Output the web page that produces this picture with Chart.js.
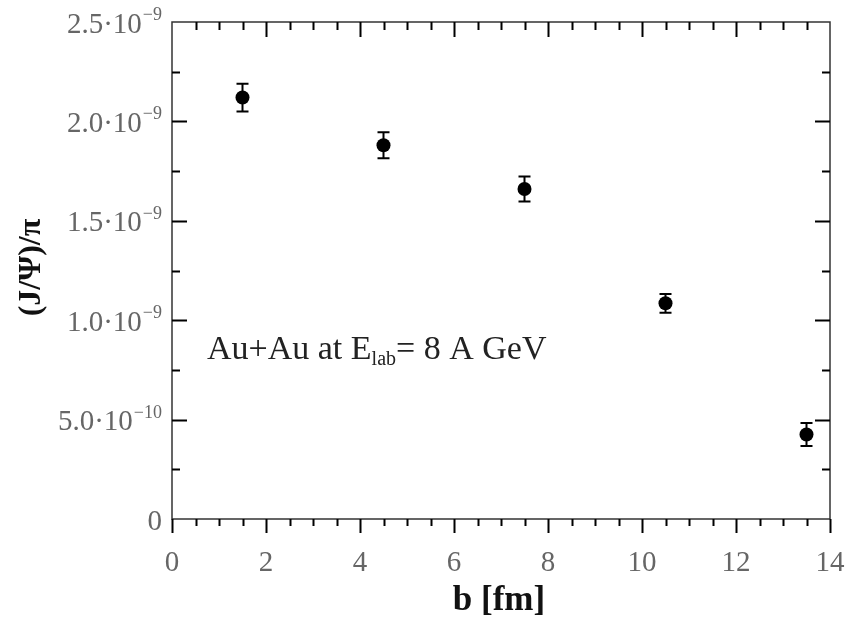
<!DOCTYPE html>
<html>
<head>
<meta charset="utf-8">
<script src="https://cdn.jsdelivr.net/npm/chart.js@4"></script>
<style>
  html, body { margin: 0; padding: 0; background: #fff; }
  #wrap { width: 849px; height: 617px; }
</style>
</head>
<body>
<div id="wrap"><canvas id="jpsiChart" width="849" height="617"></canvas></div>
<script>
// impact parameter b [fm] and J/psi per pion
const bValues = [1.5, 4.5, 7.5, 10.5, 13.5];
const jpsiValues = [2.12e-9, 1.88e-9, 1.66e-9, 1.085e-9, 0.425e-9];
const jpsiErrors = [0.07e-9, 0.065e-9, 0.063e-9, 0.047e-9, 0.058e-9];

const xTicks = [0, 2, 4, 6, 8, 10, 12, 14];
const xTickLabels = ['0', '2', '4', '6', '8', '10', '12', '14'];
const yTicks = [0, 0.5e-9, 1.0e-9, 1.5e-9, 2.0e-9, 2.5e-9];
const yTickLabels = [['0', ''], ['5.0\u00b710', '\u221210'], ['1.0\u00b710', '\u22129'],
                     ['1.5\u00b710', '\u22129'], ['2.0\u00b710', '\u22129'], ['2.5\u00b710', '\u22129']];

const SERIF = '"Liberation Serif", "DejaVu Serif", serif';

const frame = {
    id: 'frame',
    afterDraw(chart) {
        const { ctx, chartArea: a } = chart;
        const xs = chart.scales.x, ys = chart.scales.y;
        ctx.save();

        // box
        ctx.strokeStyle = '#333';
        ctx.lineWidth = 1.5;
        ctx.strokeRect(a.left, a.top, a.right - a.left, a.bottom - a.top);

        // x ticks: bottom outward, top inward
        ctx.strokeStyle = '#000';
        ctx.lineWidth = 2;
        for (let v = 0; v <= 14; v += 0.5) {
            const px = Math.round(xs.getPixelForValue(v)) + 0.5;
            const len = (v % 2 === 0) ? 14 : 7;
            ctx.beginPath();
            ctx.moveTo(px, a.bottom); ctx.lineTo(px, a.bottom + len);
            if (v > 0 && v < 14) { ctx.moveTo(px, a.top); ctx.lineTo(px, a.top + len + 1); }
            ctx.stroke();
        }
        // y ticks: inward on both sides
        for (let i = 1; i < 10; i++) {
            const v = i * 0.25e-9;
            const py = Math.round(ys.getPixelForValue(v)) + 0.5;
            const len = (i % 2 === 0) ? 15 : 8;
            ctx.beginPath();
            ctx.moveTo(a.left, py); ctx.lineTo(a.left + len, py);
            ctx.moveTo(a.right, py); ctx.lineTo(a.right - len, py);
            ctx.stroke();
        }

        // x tick labels
        ctx.fillStyle = '#666';
        ctx.font = '29px ' + SERIF;
        ctx.textAlign = 'center';
        ctx.textBaseline = 'alphabetic';
        xTicks.forEach((v, i) => {
            ctx.fillText(xTickLabels[i], xs.getPixelForValue(v), 571);
        });

        // y tick labels with superscript exponent
        const rightEdge = a.left - 10;
        yTicks.forEach((v, i) => {
            const py = ys.getPixelForValue(v);
            const [mant, exp] = yTickLabels[i];
            ctx.textAlign = 'right';
            ctx.font = '18px ' + SERIF;
            const ew = exp ? ctx.measureText(exp).width + 1 : 0;
            if (exp) ctx.fillText(exp, rightEdge, py - 2);
            ctx.font = '29px ' + SERIF;
            ctx.fillText(mant, rightEdge - ew, py + 10.5);
        });

        // axis titles
        ctx.fillStyle = '#111';
        ctx.font = 'bold 35px ' + SERIF;
        ctx.textAlign = 'center';
        ctx.fillText('b [fm]', (a.left + a.right) / 2 - 2, 610);
        ctx.save();
        ctx.translate(40, (a.top + a.bottom) / 2 - 3);
        ctx.rotate(-Math.PI / 2);
        ctx.font = 'bold 32px ' + SERIF;
        ctx.fillText('(J/\u03a8)/\u03c0', 0, 0);
        ctx.restore();

        // annotation
        ctx.fillStyle = '#222';
        ctx.textAlign = 'left';
        let x = 207;
        ctx.font = '34px ' + SERIF;
        ctx.fillText('Au+Au at E', x, 359);
        x += ctx.measureText('Au+Au at E').width;
        ctx.font = '20px ' + SERIF;
        ctx.fillText('lab', x, 365);
        x += ctx.measureText('lab').width;
        ctx.font = '34px ' + SERIF;
        ctx.fillText('= 8 A GeV', x, 359);

        ctx.restore();
    }
};

const errorBars = {
    id: 'errorBars',
    afterDatasetsDraw(chart) {
        const { ctx } = chart;
        const xs = chart.scales.x, ys = chart.scales.y;
        ctx.save();
        ctx.strokeStyle = '#000';
        ctx.lineWidth = 2;
        bValues.forEach((b, i) => {
            const px = xs.getPixelForValue(b);
            const yTop = ys.getPixelForValue(jpsiValues[i] + jpsiErrors[i]);
            const yBot = ys.getPixelForValue(jpsiValues[i] - jpsiErrors[i]);
            ctx.beginPath();
            ctx.moveTo(px, yTop); ctx.lineTo(px, yBot);
            ctx.moveTo(px - 6, yTop); ctx.lineTo(px + 6, yTop);
            ctx.moveTo(px - 6, yBot); ctx.lineTo(px + 6, yBot);
            ctx.stroke();
        });
        ctx.restore();
    }
};

new Chart(document.getElementById('jpsiChart'), {
    type: 'scatter',
    data: {
        datasets: [{
            label: 'J/psi',
            data: bValues.map((b, i) => ({ x: b, y: jpsiValues[i] })),
            backgroundColor: '#000',
            borderWidth: 0,
            pointRadius: 7,
            pointHoverRadius: 7
        }]
    },
    options: {
        responsive: false,
        animation: false,
        layout: { padding: { left: 172, right: 19, top: 22, bottom: 98 } },
        plugins: { legend: { display: false }, tooltip: { enabled: false } },
        scales: {
            x: { type: 'linear', min: 0, max: 14, display: false },
            y: { type: 'linear', min: 0, max: 2.5e-9, display: false }
        }
    },
    plugins: [errorBars, frame]
});
</script>
</body>
</html>
